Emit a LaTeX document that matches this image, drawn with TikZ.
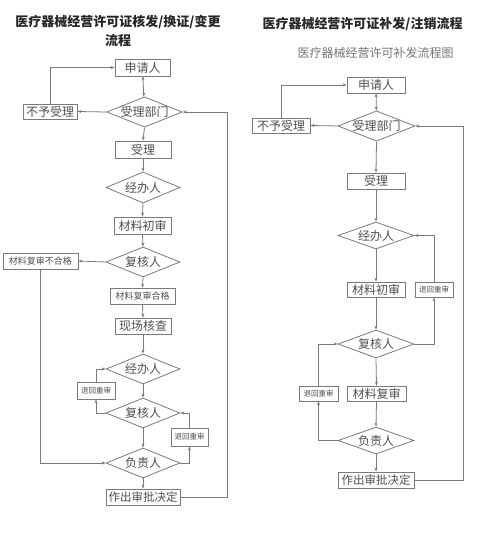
\documentclass[tikz,border=0pt]{standalone}
\usepackage{fontspec}
\newfontfamily\cjk{Noto Sans CJK SC}
\usetikzlibrary{shapes.geometric,arrows.meta}
\definecolor{lc}{HTML}{7A7A7A}
\definecolor{tc}{HTML}{505050}
\begin{document}
\begin{tikzpicture}[x=1pt,y=-1pt,
  fz/.style={font=\cjk\fontsize{#1}{#1}\selectfont},
  box/.style={draw=lc,line width=0.8pt,fill=white,inner sep=0pt,text=tc,minimum height=16pt,fz=12},
  dia/.style={draw=lc,line width=0.8pt,fill=white,diamond,aspect=2.5,inner sep=0pt,text=tc,minimum width=75pt,minimum height=30pt,fz=12},
  conn/.style={draw=lc,line width=0.8pt,-{Stealth[length=4pt,width=3pt]}},
  link/.style={draw=lc,line width=0.8pt},
  dbl/.style={draw=lc,line width=0.8pt,{Stealth[length=4pt,width=3pt]}-{Stealth[length=4pt,width=3pt]}}]
\useasboundingbox (0,0) rectangle (499,557);
% titles
\node[fz=13,font=\cjk\bfseries\fontsize{13}{13}\selectfont,text=black!85] (t1) at (118,22) {医疗器械经营许可证核发/换证/变更};
\node[font=\cjk\bfseries\fontsize{13}{13}\selectfont,text=black!85] (t2) at (118,41) {流程};
\node[font=\cjk\bfseries\fontsize{13}{13}\selectfont,text=black!85] (t3) at (362.5,24) {医疗器械经营许可证补发/注销流程};
\node[fz=12,text=black!55] (t4) at (375.5,52.5) {医疗器械经营许可补发流程图};
% left chart
\node[box,minimum width=55pt,minimum height=17pt] (L1) at (142.5,67.5) {申请人};
\node[dia] (Ld1) at (144.5,112) {受理部门};
\node[box,minimum width=54pt,minimum height=15pt] (Lno) at (50,111.5) {不予受理};
\node[box,minimum width=56pt,minimum height=17pt] (L2) at (143,149.5) {受理};
\node[dia,minimum width=74pt,minimum height=31pt] (Ld2) at (143,187.5) {经办人};
\node[box,minimum width=57pt,minimum height=17pt] (L3) at (142.5,225.5) {材料初审};
\node[dia,minimum width=74pt] (Ld3) at (143,262) {复核人};
\node[box,minimum width=75pt,fz=9] (Lfail) at (40.5,261) {材料复审不合格};
\node[box,minimum width=65pt,fz=9] (L4) at (142.5,296) {材料复审合格};
\node[box,minimum width=56pt] (L5) at (143,326) {现场核查};
\node[dia,minimum width=74pt] (Ld4) at (143,369) {经办人};
\node[box,minimum width=38pt,minimum height=17pt,fz=7.5] (Lr1) at (96,390.5) {退回重审};
\node[dia,minimum width=74pt] (Ld5) at (143,413) {复核人};
\node[box,minimum width=37pt,minimum height=18pt,fz=7.5] (Lr2) at (189.5,437) {退回重审};
\node[dia,minimum width=74pt] (Ld6) at (143,463) {负责人};
\node[box,minimum width=74pt,fz=11.5] (L6) at (143,497) {作出审批决定};
\coordinate (Lc) at (227,497);
\draw[dbl] (L1) -- (Ld1);
\draw[conn] (Ld1.west) -- (Lno.east);
\draw[conn] (Lno.north) |- (L1.west);
\draw[conn] (Ld1.south) -- (L2.north);
\draw[conn] (L2.south) -- (Ld2.north);
\draw[conn] (Ld2.south) -- (L3.north);
\draw[conn] (L3.south) -- (Ld3.north);
\draw[conn] (Ld3.west) -- (Lfail.east);
\draw[conn] (Ld3.south) -- (L4.north);
\draw[conn] (L4.south) -- (L5.north);
\draw[conn] (L5.south) -- (Ld4.north);
\draw[conn] (Ld4.south) -- (Ld5.north);
\draw[conn] (Ld5.south) -- (Ld6.north);
\draw[conn] (Ld6.south) -- (L6.north);
\draw[conn] (Lfail.south) |- (Ld6.west);
\draw[conn] (Ld5.west) -| (Lr1.south);
\draw[conn] (Lr1.north) |- (Ld4.west);
\draw[conn] (Ld6.east) -| (Lr2.south);
\draw[conn] (Lr2.north) |- (Ld5.east);
\draw[conn] (L6.east) -- (Lc) |- (Ld1.east);
% right chart
\node[box,minimum width=58pt] (R1) at (376,85) {申请人};
\node[dia,minimum width=77pt,minimum height=28pt] (Rd1) at (376.5,126) {受理部门};
\node[box,minimum width=58pt,minimum height=15pt] (Rno) at (281,125.5) {不予受理};
\node[box,minimum width=58pt] (R2) at (376,181) {受理};
\node[dia,minimum width=76pt,minimum height=27pt] (Rd2) at (376,235.5) {经办人};
\node[box,minimum width=58pt,minimum height=15pt] (R3) at (376,289.5) {材料初审};
\node[box,minimum width=38pt,minimum height=15pt,fz=7.5] (Rr1) at (434,289.5) {退回重审};
\node[dia,minimum width=76pt,minimum height=28pt] (Rd3) at (376,344) {复核人};
\node[box,minimum width=59pt,minimum height=15pt] (R4) at (376.5,393.5) {材料复审};
\node[box,minimum width=39pt,minimum height=15pt,fz=7.5] (Rr2) at (318.5,393.5) {退回重审};
\node[dia,minimum width=76pt,minimum height=27pt] (Rd4) at (376,440.5) {负责人};
\node[box,minimum width=76pt,fz=11.5] (R5) at (376,480) {作出审批决定};
\coordinate (Rc) at (463,480);
\draw[dbl] (R1) -- (Rd1);
\draw[conn] (Rd1.west) -- (Rno.east);
\draw[conn] (Rno.north) |- (R1.west);
\draw[conn] (Rd1.south) -- (R2.north);
\draw[conn] (R2.south) -- (Rd2.north);
\draw[conn] (Rd2.south) -- (R3.north);
\draw[conn] (R3.south) -- (Rd3.north);
\draw[conn] (Rd3.south) -- (R4.north);
\draw[conn] (R4.south) -- (Rd4.north);
\draw[conn] (Rd4.south) -- (R5.north);
\draw[conn] (Rd3.east) -| (Rr1.south);
\draw[conn] (Rr1.north) |- (Rd2.east);
\draw[conn] (Rd4.west) -| (Rr2.south);
\draw[conn] (Rr2.north) |- (Rd3.west);
\draw[conn] (R5.east) -- (Rc) |- (Rd1.east);
\end{tikzpicture}
\end{document}
